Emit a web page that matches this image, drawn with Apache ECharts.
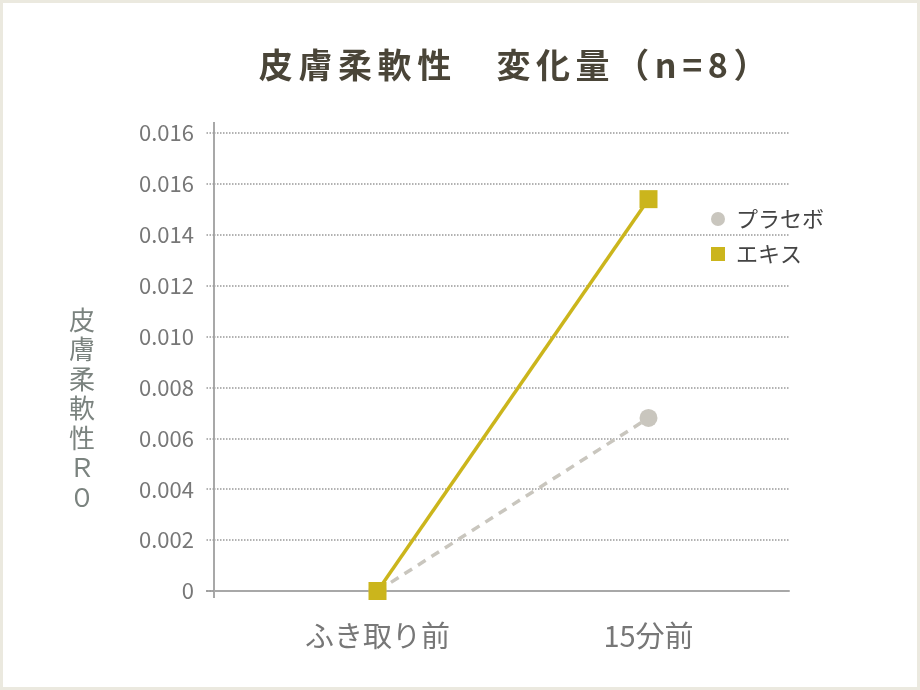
<!DOCTYPE html>
<html>
<head>
<meta charset="utf-8">
<script src="https://cdn.jsdelivr.net/npm/echarts@6/dist/echarts.min.js"></script>
<style>
html,body{margin:0;padding:0;background:#fff;}
#wrap{position:relative;width:920px;height:690px;}
#chart{position:absolute;left:0;top:0;width:920px;height:690px;}
#frame{position:absolute;left:0;top:0;width:920px;height:690px;box-sizing:border-box;border:3px solid #ebe9df;pointer-events:none;}
</style>
</head>
<body>
<div id="wrap"><div id="chart"></div><div id="frame"></div></div>
<script>
const categories = ['ふき取り前', '15分前'];
const placebo = [0, 0.0068];
const extract = [0, 0.0154];
const yTickValues = [0, 0.002, 0.004, 0.006, 0.008, 0.010, 0.012, 0.014, 0.016, 0.018];
const yTickLabels = ['0', '0.002', '0.004', '0.006', '0.008', '0.010', '0.012', '0.014', '0.016', '0.016'];
const titleText = '皮膚柔軟性　変化量（n=8）';
const yName = '皮\n膚\n柔\n軟\n性\nＲ\n０';

const FONT = '"Noto Sans CJK JP", "Noto Sans", sans-serif';
const titleRich = Array.from(titleText).map(ch => '{c|' + ch + '}').join('');
const chart = echarts.init(document.getElementById('chart'));
const gridLeft = 214, gridTop = 133, gridBottom = 99;
const axisColor = '#a8a8a8';
chart.setOption({
  backgroundColor: '#fff',
  animation: false,
  title: [
    {
      text: titleRich, left: 251, top: 43,
      textStyle: {
        fontFamily: FONT, fontSize: 34, fontWeight: 'bold', color: '#4a4538',
        rich: {c: {fontFamily: FONT, fontSize: 34, fontWeight: 'bold', color: '#4a4538', padding: [0, 2.8, 0, 2.8]}}
      }
    },
    {
      text: yName, left: 64, top: 300,
      textStyle: {fontFamily: FONT, fontSize: 26, lineHeight: 29.5, fontWeight: 'normal', color: '#7b837f', align: 'center'}
    }
  ],
  legend: {
    orient: 'vertical', left: 706, top: 203, itemGap: 13,
    itemWidth: 14, itemHeight: 14,
    data: [{name: 'プラセボ', icon: 'circle'}, {name: 'エキス', icon: 'rect'}],
    textStyle: {fontFamily: FONT, fontSize: 22, color: '#444', padding: [0, 0, 0, 6]}
  },
  graphic: [
    {type: 'line', shape: {x1: gridLeft, y1: 122, x2: gridLeft, y2: gridTop}, style: {stroke: axisColor, lineWidth: 2}},
    {type: 'line', shape: {x1: gridLeft, y1: 591, x2: gridLeft, y2: 598}, style: {stroke: axisColor, lineWidth: 2}},
    {type: 'line', shape: {x1: 206, y1: 591, x2: gridLeft, y2: 591}, style: {stroke: axisColor, lineWidth: 2}}
  ],
  grid: [
    {left: gridLeft, right: 131, top: gridTop, bottom: gridBottom},
    {left: 242, width: 542, top: gridTop, bottom: gridBottom}
  ],
  xAxis: [
    {type: 'category', gridIndex: 0, data: ['', ''], axisLine: {lineStyle: {color: axisColor, width: 2}}, axisTick: {show: false}, axisLabel: {show: false}},
    {type: 'category', gridIndex: 1, data: categories, boundaryGap: true, axisLine: {show: false}, axisTick: {show: false},
      axisLabel: {margin: 30, fontFamily: FONT, fontSize: 29, color: '#777'}}
  ],
  yAxis: [
    {type: 'value', gridIndex: 0, min: 0, max: 0.018, interval: 0.002,
      axisLine: {show: true, lineStyle: {color: axisColor, width: 2}},
      axisTick: {show: true, inside: false, length: 9, lineStyle: {color: '#999', type: 'dotted', width: 1.5}},
      splitLine: {show: true, lineStyle: {color: '#999', type: 'dotted', width: 1.5}},
      axisLabel: {margin: 20, fontFamily: FONT, fontSize: 22, color: '#777',
        formatter: function (v) { const i = yTickValues.findIndex(t => Math.abs(t - v) < 1e-9); return i >= 0 ? yTickLabels[i] : ''; }}
    },
    {type: 'value', gridIndex: 1, min: 0, max: 0.018, interval: 0.002, show: false, splitLine: {show: false}}
  ],
  series: [
    {name: 'プラセボ', type: 'line', xAxisIndex: 1, yAxisIndex: 1, data: placebo,
      symbol: 'circle', symbolSize: 18, itemStyle: {color: '#c9c6be'},
      lineStyle: {color: '#c9c6be', width: 3.5, type: [9, 7]}, z: 2},
    {name: 'エキス', type: 'line', xAxisIndex: 1, yAxisIndex: 1, data: extract,
      symbol: 'rect', symbolSize: 18, itemStyle: {color: '#cbb51c'},
      lineStyle: {color: '#cbb51c', width: 3.5}, z: 3}
  ]
});
</script>
</body>
</html>
